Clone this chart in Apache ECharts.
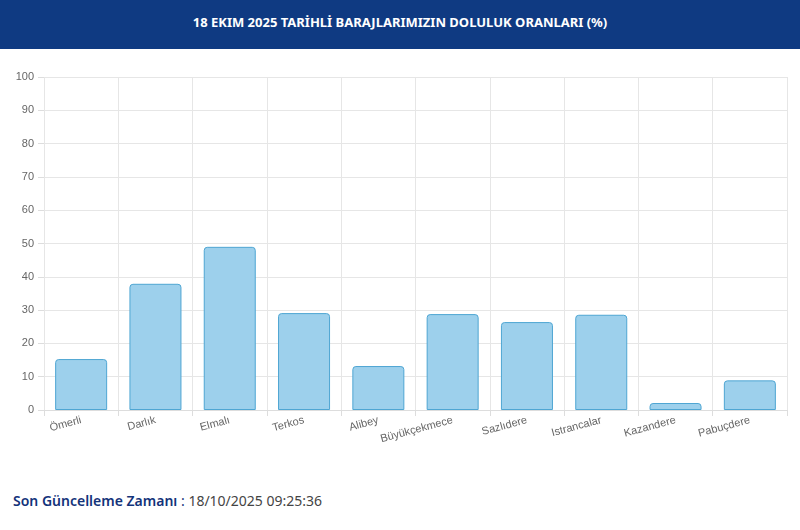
<!DOCTYPE html>
<html>
<head>
<meta charset="utf-8">
<script src="https://cdn.jsdelivr.net/npm/echarts@6/dist/echarts.min.js"></script>
<style>
  body { margin: 0; width: 800px; height: 530px; background: #fff; font-family: "Noto Sans", sans-serif; position: relative; overflow: hidden; }
  #head { position: absolute; left: 0; top: 0; width: 800px; height: 49px; background: #0f3a82; color: #fff;
          font-weight: bold; font-size: 13px; line-height: 44px; text-align: center; }
  #main { position: absolute; left: 0; top: 49px; width: 800px; height: 430px; }
  #foot { position: absolute; left: 13px; top: 491px; font-size: 14px; color: #13337a; }
  #foot b { font-weight: 600; }
  #foot span { color: #444; }
</style>
</head>
<body>
<div id="head">18 EKIM 2025 TARİHLİ BARAJLARIMIZIN DOLULUK ORANLARI (%)</div>
<div id="main"></div>
<div id="foot"><b>Son Güncelleme Zamanı</b> : <span>18/10/2025 09:25:36</span></div>
<script>
var dams = ['Ömerli', 'Darlık', 'Elmalı', 'Terkos', 'Alibey', 'Büyükçekmece', 'Sazlıdere', 'Istrancalar', 'Kazandere', 'Pabuçdere'];
var fillRates = [15.3, 37.9, 49.0, 29.1, 13.2, 28.8, 26.4, 28.6, 2.1, 8.9];

var myChart = echarts.init(document.getElementById('main'));
myChart.setOption({
  animation: false,
  grid: { left: 44, right: 13, top: 28, bottom: 69 },
  xAxis: {
    type: 'category',
    data: dams,
    axisTick: { show: true, alignWithLabel: false, length: 6, lineStyle: { color: '#ddd' } },
    axisLine: { lineStyle: { color: '#ddd' } },
    splitLine: { show: true, lineStyle: { color: '#e6e6e6' } },
    axisLabel: { rotate: 15, color: '#666', fontSize: 11, fontFamily: 'Liberation Sans', margin: 10 }
  },
  yAxis: {
    type: 'value',
    min: 0, max: 100, interval: 10,
    axisLine: { show: false },
    axisTick: { show: true, length: 6, lineStyle: { color: '#ddd' } },
    splitLine: { lineStyle: { color: '#e6e6e6' } },
    axisLabel: { color: '#666', fontSize: 11, fontFamily: 'Liberation Sans', margin: 10 }
  },
  series: [{
    type: 'bar',
    data: fillRates,
    barWidth: '70%',
    itemStyle: { color: '#9dd0ec', borderColor: '#4fa6d3', borderWidth: 1, borderRadius: [3, 3, 0, 0] }
  }]
});
</script>
</body>
</html>
